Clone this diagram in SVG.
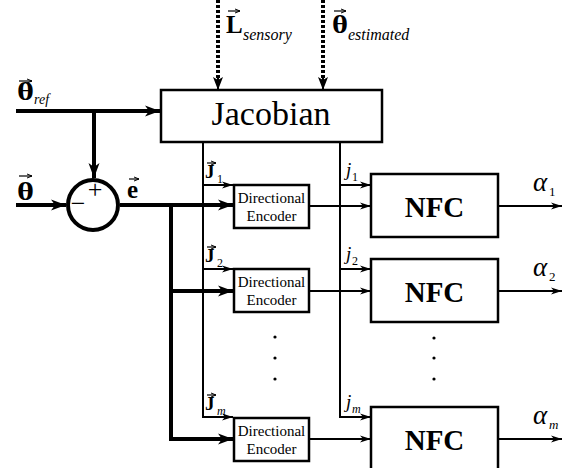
<svg xmlns="http://www.w3.org/2000/svg" width="566" height="468" viewBox="0 0 566 468" font-family="'Liberation Serif', 'DejaVu Serif', serif">
<style>
.box{fill:#fff;stroke:#000;stroke-width:2.5}
.thick{fill:none;stroke:#000;stroke-width:4}
.thin{fill:none;stroke:#000;stroke-width:2}
.dot{fill:none;stroke:#000;stroke-width:4;stroke-dasharray:3 2}
.vec{fill:none;stroke:#000;stroke-width:1.2}
text{font-family:'Liberation Serif','DejaVu Serif',serif;fill:#000}
.b{font-weight:bold}
.i{font-style:italic}
.mid{text-anchor:middle}
</style>
<defs>
<marker id="ah" markerUnits="userSpaceOnUse" markerWidth="16" markerHeight="12" viewBox="0 -6 16 12" refX="15" refY="0" orient="auto">
<path d="M0,-5.5 L15,0 L0,5.5 L4,0 Z" fill="#000"/>
</marker>
<marker id="as" markerUnits="userSpaceOnUse" markerWidth="12" markerHeight="8" viewBox="0 -4 12 8" refX="11" refY="0" orient="auto">
<path d="M0,-3.5 L11,0 L0,3.5 L3,0 Z" fill="#000"/>
</marker>
<marker id="ad" markerUnits="userSpaceOnUse" markerWidth="14" markerHeight="12" viewBox="0 -6 14 12" refX="13" refY="0" orient="auto">
<path d="M0,-5 L13,0 L0,5 L3,0 Z" fill="#000"/>
</marker>
<marker id="av" markerUnits="userSpaceOnUse" markerWidth="6" markerHeight="6" viewBox="0 -3 6 6" refX="5" refY="0" orient="auto">
<path d="M0,-2 L5,0 L0,2" fill="none" stroke="#000" stroke-width="1"/>
</marker>
</defs>

<g id="connectors">
<path class="dot" d="M218,0 V80" />
<path class="thin" d="M218,78 V90" marker-end="url(#ad)"/>
<path class="dot" d="M323,0 V80" />
<path class="thin" d="M323,78 V90" marker-end="url(#ad)"/>
<path class="thick" d="M16,111 H160" marker-end="url(#ah)"/>
<path class="thick" d="M94,111 V178" marker-end="url(#ah)"/>
<path class="thick" d="M16,205 H66" marker-end="url(#ah)"/>
<path class="thick" d="M120,205 H233" marker-end="url(#ah)"/>
<path class="thick" d="M171,205 V439 H233" marker-end="url(#ah)"/>
<path class="thick" d="M171,291 H233" marker-end="url(#ah)"/>
<path class="thin" d="M203,142 V417 H233" marker-end="url(#as)"/>
<path class="thin" d="M203,185 H233" marker-end="url(#as)"/>
<path class="thin" d="M203,269 H233" marker-end="url(#as)"/>
<path class="thin" d="M340,142 V417 H371" marker-end="url(#as)"/>
<path class="thin" d="M340,185 H371" marker-end="url(#as)"/>
<path class="thin" d="M340,269 H371" marker-end="url(#as)"/>
<path class="thin" d="M310,206 H371" marker-end="url(#as)"/>
<path class="thin" d="M310,291 H371" marker-end="url(#as)"/>
<path class="thin" d="M310,439 H371" marker-end="url(#as)"/>
<path class="thin" d="M498,206 H562" marker-end="url(#as)"/>
<path class="thin" d="M498,291 H562" marker-end="url(#as)"/>
<path class="thin" d="M498,439 H562" marker-end="url(#as)"/>
</g>

<g id="jacobian">
<rect class="box" x="161" y="90" width="221" height="52"/>
<text x="271" y="125" font-size="34" class="mid">Jacobian</text>
</g>

<g id="sum">
<circle cx="93" cy="205" r="25" fill="#fff" stroke="#000" stroke-width="4"/>
<text x="95" y="198" font-size="26" class="mid">+</text>
<text x="78" y="212" font-size="26" class="mid">−</text>
</g>

<g id="de1">
<rect class="box" x="234" y="185" width="75" height="43"/>
<text x="271.5" y="203" font-size="15" class="mid">Directional</text>
<text x="271.5" y="221" font-size="15" class="mid">Encoder</text>
</g>
<g id="de2">
<rect class="box" x="234" y="269" width="75" height="43"/>
<text x="271.5" y="287" font-size="15" class="mid">Directional</text>
<text x="271.5" y="305" font-size="15" class="mid">Encoder</text>
</g>
<g id="dem">
<rect class="box" x="234" y="418" width="75" height="43"/>
<text x="271.5" y="436" font-size="15" class="mid">Directional</text>
<text x="271.5" y="454" font-size="15" class="mid">Encoder</text>
</g>

<g id="nfc1">
<rect class="box" x="371" y="174" width="127" height="63"/>
<text x="434.5" y="217" font-size="29" class="b mid">NFC</text>
</g>
<g id="nfc2">
<rect class="box" x="371" y="259" width="127" height="63"/>
<text x="434.5" y="302" font-size="29" class="b mid">NFC</text>
</g>
<g id="nfcm">
<rect class="box" x="371" y="407" width="127" height="63"/>
<text x="434.5" y="450" font-size="29" class="b mid">NFC</text>
</g>

<g id="ellipsis">
<circle cx="275" cy="337" r="1.6"/>
<circle cx="275" cy="358" r="1.6"/>
<circle cx="275" cy="379" r="1.6"/>
<circle cx="434" cy="338" r="1.6"/>
<circle cx="434" cy="358" r="1.6"/>
<circle cx="434" cy="379" r="1.6"/>
</g>

<g id="labels">
<text x="226" y="33" font-size="25" class="b">L</text>
<path class="vec" d="M228,11 H240" marker-end="url(#av)"/>
<text x="243" y="40" font-size="16" class="i">sensory</text>
<text x="332" y="33" font-size="26" class="b" textLength="16" lengthAdjust="spacingAndGlyphs">θ</text>
<path class="vec" d="M334,11 H346" marker-end="url(#av)"/>
<text x="348" y="40" font-size="16" class="i">estimated</text>
<text x="17" y="100" font-size="26" class="b" textLength="17" lengthAdjust="spacingAndGlyphs">θ</text>
<path class="vec" d="M19,81 H32" marker-end="url(#av)"/>
<text x="34" y="104" font-size="14" class="i">ref</text>
<text x="17" y="200" font-size="26" class="b" textLength="17" lengthAdjust="spacingAndGlyphs">θ</text>
<path class="vec" d="M19,176 H32" marker-end="url(#av)"/>
<text x="127" y="198" font-size="25" class="b">e</text>
<path class="vec" d="M129,179 H139" marker-end="url(#av)"/>
<text x="205" y="178" font-size="19" class="b">J</text>
<path class="vec" d="M207,163 H216" marker-end="url(#av)"/>
<text x="217" y="183" font-size="12">1</text>
<text x="205" y="262" font-size="19" class="b">J</text>
<path class="vec" d="M207,247 H216" marker-end="url(#av)"/>
<text x="217" y="267" font-size="12">2</text>
<text x="205" y="410" font-size="19" class="b">J</text>
<path class="vec" d="M207,395 H216" marker-end="url(#av)"/>
<text x="217" y="415" font-size="12" class="i">m</text>
<text x="346" y="176" font-size="19" class="i">j</text>
<text x="352" y="181" font-size="12">1</text>
<text x="346" y="260" font-size="19" class="i">j</text>
<text x="352" y="265" font-size="12">2</text>
<text x="346" y="408" font-size="19" class="i">j</text>
<text x="352" y="413" font-size="12" class="i">m</text>
<text x="533" y="191" font-size="27" class="i">α</text>
<text x="549" y="196" font-size="13">1</text>
<text x="533" y="276" font-size="27" class="i">α</text>
<text x="549" y="281" font-size="13">2</text>
<text x="533" y="424" font-size="27" class="i">α</text>
<text x="549" y="429" font-size="13" class="i">m</text>
</g>
</svg>
